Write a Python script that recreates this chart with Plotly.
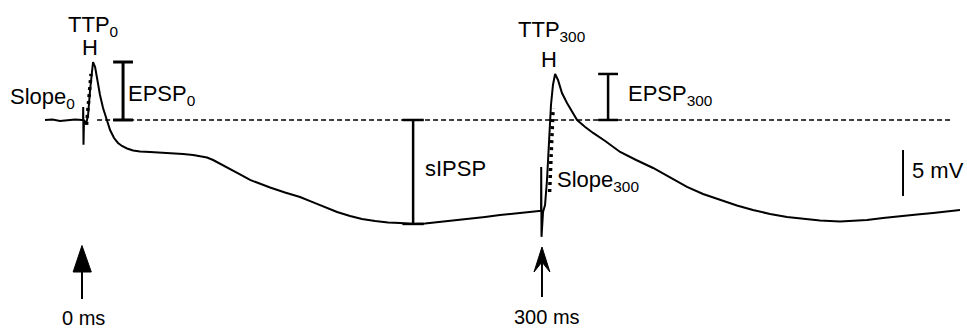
import plotly.graph_objects as go

W, H = 967, 328

# Membrane potential trace (time in ms relative to first stimulus, Vm in mV relative to baseline)
time_ms = [-24.9, -20.0, -15.1, -10.0, -5.2, -0.7, 0.0, 0.1, 0.3, 0.6, 2.0, 3.3, 4.6, 5.9, 6.55,
           7.9, 9.2, 11.1, 13.1, 15.7, 17.7, 20.3, 22.9, 25.5, 28.8, 32.8, 37.3, 43.9, 50.4,
           57.0, 65.5, 72.1, 76.6, 81.2, 85.2, 89.7, 96.3, 102.8, 109.4, 115.9, 122.5, 132.3,
           142.1, 150.0, 158.5, 166.4, 174.9, 182.7, 191.3, 199.8, 207.6, 216.2, 224.0, 233.8,
           243.7, 253.5, 263.3, 273.1, 281.6, 289.5, 298.7,
           300.0, 300.1, 300.3, 301.3, 302.6, 303.9, 305.2, 306.5, 307.8, 309.2, 311.1, 313.7,
           317.0, 320.3, 323.6, 328.9, 334.1, 342.0, 346.6, 351.8, 362.3, 373.4, 384.5, 395.6,
           406.1, 417.2, 428.3, 438.8, 450.0, 461.1, 471.6, 482.7, 495.8, 505.7, 513.5, 524.0,
           535.1, 546.3, 556.8, 566.0, 574.4]
vm_mV = [0.0, 0.05, -0.1, -0.05, 0.05, 0.0, 0.0, 1.4, -2.7, 0.0, -0.43, 0.54, 3.26, 5.43, 6.3,
         5.76, 4.35, 2.72, 1.3, 0.0, -1.09, -1.96, -2.5, -2.83, -3.1, -3.32, -3.42, -3.48, -3.53,
         -3.59, -3.7, -3.8, -3.91, -4.08, -4.35, -4.73, -5.33, -5.92, -6.52, -6.96, -7.34, -7.88,
         -8.37, -8.91, -9.46, -10.0, -10.43, -10.76, -10.98, -11.14, -11.2, -11.3, -11.25, -11.09,
         -10.92, -10.76, -10.54, -10.33, -10.16, -10.0, -9.89,
         -9.9, -5.1, -12.7, -10.0, -9.24, -6.52, -2.17, 1.63, 3.8, 5.0, 4.35, 2.93,
         1.85, 0.87, 0.0, -0.76, -1.41, -2.28, -2.83, -3.48, -4.35, -5.22, -6.25, -7.28,
         -8.04, -8.7, -9.29, -9.78, -10.22, -10.54, -10.76, -10.92, -11.03, -10.98, -10.87, -10.65,
         -10.43, -10.27, -10.11, -9.95, -9.78]

stim_times = [0, 300]
stim_labels = ["0 ms", "300 ms"]

# Rising-slope guide lines (time ms, Vm mV)
slope0_t = [2.29, 5.24]
slope0_v = [-0.54, 5.0]
slope300_t = [305.6, 307.9]
slope300_v = [-7.83, 1.3]

scale_mV = 5

FONT = "Liberation Sans, Arial, sans-serif"

# derived measurements
win0 = [(t, v) for t, v in zip(time_ms, vm_mV) if 0 <= t < 100]
win300 = [(t, v) for t, v in zip(time_ms, vm_mV) if 300 <= t < 400]
peak0 = max(v for _, v in win0)
peak300 = max(v for _, v in win300)
sipsp = min(v for t, v in zip(time_ms, vm_mV) if 0 <= t < 300)

fig = go.Figure()
fig.add_trace(go.Scatter(x=time_ms, y=vm_mV, mode="lines",
                         line=dict(color="black", width=2), hoverinfo="skip"))
fig.add_trace(go.Scatter(x=slope0_t, y=slope0_v, mode="lines",
                         line=dict(color="black", width=3.5, dash="3px,4px"), hoverinfo="skip"))
fig.add_trace(go.Scatter(x=slope300_t, y=slope300_v, mode="lines",
                         line=dict(color="black", width=3.5, dash="3px,4px"), hoverinfo="skip"))

shapes = []
# dashed baseline
shapes.append(dict(type="line", xref="x", yref="y", x0=9.2, x1=568, y0=0, y1=0,
                   line=dict(color="black", width=1.5, dash="5px,3px")))


def ibar(x, y0, y1, hw, w=2.5):
    shapes.append(dict(type="line", x0=x, x1=x, y0=y0, y1=y1, line=dict(color="black", width=w)))
    for yy in (y0, y1):
        shapes.append(dict(type="line", x0=x - hw, x1=x + hw, y0=yy, y1=yy,
                           line=dict(color="black", width=w)))


ibar(26.2, 0, peak0, 6.5, 3)
ibar(343.9, 0, peak300, 6.5, 2.5)
ibar(216.2, 0, sipsp, 7, 2.5)
# scale bar
shapes.append(dict(type="line", x0=537.1, x1=537.1, y0=-3.26, y1=-3.26 - scale_mV,
                   line=dict(color="black", width=2)))


def py(y):
    return 1 - y / H


# stimulus arrows
t0 = stim_times[0]
shapes.append(dict(type="line", xref="x", yref="paper", x0=t0 - 0.7, x1=t0 - 0.7,
                   y0=py(299), y1=py(268), line=dict(color="black", width=2)))
shapes.append(dict(type="path", xref="x", yref="paper",
                   path=f"M {t0-0.7},{py(245.5)} L {t0-6.5},{py(272)} L {t0+5.4},{py(272)} Z",
                   fillcolor="black", line=dict(color="black", width=1)))
t1 = stim_times[1]
shapes.append(dict(type="line", xref="x", yref="paper", x0=t1 + 0.6, x1=t1 + 0.6,
                   y0=py(297), y1=py(252), line=dict(color="black", width=2)))
shapes.append(dict(type="path", xref="x", yref="paper",
                   path=(f"M {t1+0.6},{py(247)} L {t1-4.6},{py(272)} L {t1+0.6},{py(262)} "
                         f"L {t1+5.8},{py(272)} Z"),
                   fillcolor="black", line=dict(color="black", width=1)))

ann = []


def label(text, x, y, size=22, xanchor="left"):
    ann.append(dict(text=text, x=x / W, y=py(y), xref="paper", yref="paper",
                    xanchor=xanchor, yanchor="middle", showarrow=False,
                    font=dict(family=FONT, size=size, color="black")))


label("TTP<sub>0</sub>", 66, 26)
label("H", 89.5, 47, xanchor="center")
label("Slope<sub>0</sub>", 8, 98)
label("EPSP<sub>0</sub>", 126, 95)
label("sIPSP", 423, 168)
label("TTP<sub>300</sub>", 516, 31)
label("H", 548.5, 60, xanchor="center")
label("EPSP<sub>300</sub>", 626, 95)
label("Slope<sub>300</sub>", 555, 181)
label("5 mV", 910, 170)
label(stim_labels[0], 83, 317.5, size=20, xanchor="center")
label(stim_labels[1], 547, 316.5, size=20, xanchor="center")

fig.update_layout(
    width=W, height=H, margin=dict(l=0, r=0, t=0, b=0),
    paper_bgcolor="white", plot_bgcolor="white", showlegend=False,
    shapes=shapes, annotations=ann,
    xaxis=dict(range=[-54.4, 579.0], visible=False, fixedrange=True),
    yaxis=dict(range=[-22.61, 13.04], visible=False, fixedrange=True),
)
fig.write_html("out.html", config={"displayModeBar": False})
